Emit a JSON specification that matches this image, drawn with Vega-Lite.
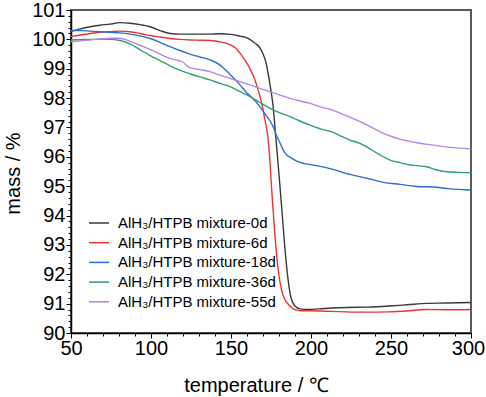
{
  "$schema": "https://vega.github.io/schema/vega-lite/v6.json",
  "width": 400,
  "height": 323,
  "autosize": "none",
  "padding": {"left": 71, "top": 10, "right": 15, "bottom": 64},
  "background": "white",
  "config": {
    "view": {"stroke": "#5a5a5a", "strokeWidth": 2},
    "axis": {
      "domainColor": "#000", "domainWidth": 1.5, "tickColor": "#000", "tickWidth": 1,
      "labelFont": "Liberation Sans", "labelColor": "#000", "labelFontSize": 20,
      "titleFont": "Liberation Sans", "titleColor": "#000", "titleFontSize": 20, "titleFontWeight": "normal",
      "grid": false, "labelOverlap": false, "labelBound": false, "labelFlush": false
    },
    "legend": {"labelFont": "Liberation Sans", "labelColor": "#000"}
  },
  "data": {"values": [
    {"s":"0d","T":50,"m":100.27},{"s":"0d","T":55,"m":100.35},{"s":"0d","T":62,"m":100.43},{"s":"0d","T":68,"m":100.48},{"s":"0d","T":74.4,"m":100.52},{"s":"0d","T":80.6,"m":100.57},{"s":"0d","T":86.9,"m":100.55},{"s":"0d","T":93,"m":100.5},{"s":"0d","T":99.4,"m":100.43},{"s":"0d","T":105.6,"m":100.3},{"s":"0d","T":111.9,"m":100.2},{"s":"0d","T":118,"m":100.18},{"s":"0d","T":124.4,"m":100.18},{"s":"0d","T":136.9,"m":100.18},{"s":"0d","T":143,"m":100.19},{"s":"0d","T":150,"m":100.17},{"s":"0d","T":155.6,"m":100.11},{"s":"0d","T":160,"m":100.05},{"s":"0d","T":163,"m":99.95},{"s":"0d","T":165.5,"m":99.85},{"s":"0d","T":168,"m":99.72},{"s":"0d","T":170,"m":99.5},{"s":"0d","T":171.9,"m":99.2},{"s":"0d","T":173,"m":98.9},{"s":"0d","T":174.4,"m":98.45},{"s":"0d","T":176.25,"m":97.76},{"s":"0d","T":178.1,"m":96.6},{"s":"0d","T":180,"m":95.4},{"s":"0d","T":181.9,"m":94.12},{"s":"0d","T":183.75,"m":92.85},{"s":"0d","T":185.6,"m":91.85},{"s":"0d","T":187.5,"m":91.2},{"s":"0d","T":190,"m":90.92},{"s":"0d","T":193.1,"m":90.82},{"s":"0d","T":198,"m":90.8},{"s":"0d","T":205,"m":90.82},{"s":"0d","T":213,"m":90.85},{"s":"0d","T":222.3,"m":90.87},{"s":"0d","T":235,"m":90.88},{"s":"0d","T":249.4,"m":90.92},{"s":"0d","T":260,"m":90.96},{"s":"0d","T":272.3,"m":91.01},{"s":"0d","T":285,"m":91.02},{"s":"0d","T":300,"m":91.04},
    {"s":"6d","T":50,"m":100.1},{"s":"6d","T":56,"m":100.15},{"s":"6d","T":62,"m":100.2},{"s":"6d","T":68,"m":100.24},{"s":"6d","T":74,"m":100.26},{"s":"6d","T":80.6,"m":100.28},{"s":"6d","T":87,"m":100.26},{"s":"6d","T":93,"m":100.2},{"s":"6d","T":99.4,"m":100.13},{"s":"6d","T":105.6,"m":100.08},{"s":"6d","T":112,"m":100.03},{"s":"6d","T":118,"m":100.0},{"s":"6d","T":124.4,"m":99.98},{"s":"6d","T":130.6,"m":99.97},{"s":"6d","T":137,"m":99.96},{"s":"6d","T":143,"m":99.92},{"s":"6d","T":147,"m":99.87},{"s":"6d","T":150,"m":99.8},{"s":"6d","T":153,"m":99.7},{"s":"6d","T":155.6,"m":99.53},{"s":"6d","T":158,"m":99.35},{"s":"6d","T":160,"m":99.18},{"s":"6d","T":162,"m":98.98},{"s":"6d","T":164,"m":98.75},{"s":"6d","T":166,"m":98.45},{"s":"6d","T":168,"m":98.08},{"s":"6d","T":169.5,"m":97.75},{"s":"6d","T":171.25,"m":97.25},{"s":"6d","T":173,"m":96.7},{"s":"6d","T":174,"m":96.1},{"s":"6d","T":175.4,"m":94.9},{"s":"6d","T":176.9,"m":93.74},{"s":"6d","T":178.6,"m":92.6},{"s":"6d","T":180,"m":91.95},{"s":"6d","T":181.7,"m":91.45},{"s":"6d","T":183.5,"m":91.15},{"s":"6d","T":185.8,"m":90.98},{"s":"6d","T":188,"m":90.86},{"s":"6d","T":191,"m":90.78},{"s":"6d","T":195,"m":90.76},{"s":"6d","T":199.4,"m":90.76},{"s":"6d","T":210,"m":90.74},{"s":"6d","T":222,"m":90.72},{"s":"6d","T":235,"m":90.71},{"s":"6d","T":249,"m":90.72},{"s":"6d","T":260,"m":90.75},{"s":"6d","T":272,"m":90.8},{"s":"6d","T":285,"m":90.79},{"s":"6d","T":300,"m":90.8},
    {"s":"18d","T":50,"m":100.3},{"s":"18d","T":56,"m":100.3},{"s":"18d","T":62,"m":100.28},{"s":"18d","T":68,"m":100.26},{"s":"18d","T":74.4,"m":100.24},{"s":"18d","T":80.6,"m":100.22},{"s":"18d","T":86.9,"m":100.18},{"s":"18d","T":93,"m":100.12},{"s":"18d","T":99.4,"m":100.03},{"s":"18d","T":105.6,"m":99.9},{"s":"18d","T":111.9,"m":99.75},{"s":"18d","T":118,"m":99.62},{"s":"18d","T":124.4,"m":99.5},{"s":"18d","T":130.6,"m":99.4},{"s":"18d","T":136.9,"m":99.3},{"s":"18d","T":143,"m":99.13},{"s":"18d","T":147.3,"m":98.92},{"s":"18d","T":151.3,"m":98.7},{"s":"18d","T":155.6,"m":98.45},{"s":"18d","T":159.8,"m":98.18},{"s":"18d","T":163,"m":98.02},{"s":"18d","T":166,"m":97.85},{"s":"18d","T":168.1,"m":97.7},{"s":"18d","T":170.2,"m":97.55},{"s":"18d","T":172.3,"m":97.38},{"s":"18d","T":174.4,"m":97.22},{"s":"18d","T":176.4,"m":97.02},{"s":"18d","T":178.6,"m":96.7},{"s":"18d","T":180.6,"m":96.48},{"s":"18d","T":182.7,"m":96.22},{"s":"18d","T":185,"m":96.05},{"s":"18d","T":188,"m":95.95},{"s":"18d","T":191.1,"m":95.85},{"s":"18d","T":196,"m":95.77},{"s":"18d","T":203.6,"m":95.7},{"s":"18d","T":212,"m":95.6},{"s":"18d","T":224.4,"m":95.4},{"s":"18d","T":235,"m":95.27},{"s":"18d","T":245.2,"m":95.13},{"s":"18d","T":255.6,"m":95.06},{"s":"18d","T":266,"m":94.99},{"s":"18d","T":276.4,"m":94.97},{"s":"18d","T":287,"m":94.91},{"s":"18d","T":300,"m":94.87},
    {"s":"36d","T":50,"m":99.98},{"s":"36d","T":56,"m":99.99},{"s":"36d","T":62,"m":100.0},{"s":"36d","T":68,"m":100.0},{"s":"36d","T":74.4,"m":100.0},{"s":"36d","T":80.6,"m":99.96},{"s":"36d","T":86.9,"m":99.85},{"s":"36d","T":93,"m":99.65},{"s":"36d","T":99.4,"m":99.45},{"s":"36d","T":105.6,"m":99.28},{"s":"36d","T":111.9,"m":99.1},{"s":"36d","T":118,"m":98.95},{"s":"36d","T":124.4,"m":98.83},{"s":"36d","T":130.6,"m":98.72},{"s":"36d","T":136.9,"m":98.62},{"s":"36d","T":143,"m":98.5},{"s":"36d","T":149.4,"m":98.39},{"s":"36d","T":155.6,"m":98.22},{"s":"36d","T":161.9,"m":98.05},{"s":"36d","T":168,"m":97.85},{"s":"36d","T":174.4,"m":97.65},{"s":"36d","T":180.6,"m":97.5},{"s":"36d","T":186.9,"m":97.37},{"s":"36d","T":193,"m":97.22},{"s":"36d","T":199.4,"m":97.08},{"s":"36d","T":206,"m":96.95},{"s":"36d","T":213.9,"m":96.83},{"s":"36d","T":219,"m":96.7},{"s":"36d","T":224.4,"m":96.57},{"s":"36d","T":230.6,"m":96.46},{"s":"36d","T":234.8,"m":96.34},{"s":"36d","T":242,"m":96.1},{"s":"36d","T":249.4,"m":95.89},{"s":"36d","T":255.6,"m":95.8},{"s":"36d","T":261.9,"m":95.72},{"s":"36d","T":266,"m":95.7},{"s":"36d","T":272.3,"m":95.66},{"s":"36d","T":278,"m":95.56},{"s":"36d","T":284.8,"m":95.49},{"s":"36d","T":292,"m":95.47},{"s":"36d","T":300,"m":95.46},
    {"s":"55d","T":50,"m":99.92},{"s":"55d","T":56,"m":99.95},{"s":"55d","T":62,"m":99.98},{"s":"55d","T":68,"m":100.01},{"s":"55d","T":74.4,"m":100.04},{"s":"55d","T":80.6,"m":100.04},{"s":"55d","T":86.9,"m":99.93},{"s":"55d","T":93,"m":99.8},{"s":"55d","T":99.4,"m":99.66},{"s":"55d","T":105.6,"m":99.5},{"s":"55d","T":111.9,"m":99.35},{"s":"55d","T":117,"m":99.28},{"s":"55d","T":120.2,"m":99.22},{"s":"55d","T":122,"m":99.12},{"s":"55d","T":124.4,"m":99.04},{"s":"55d","T":130.6,"m":98.97},{"s":"55d","T":136.9,"m":98.9},{"s":"55d","T":143,"m":98.78},{"s":"55d","T":149.4,"m":98.67},{"s":"55d","T":155.6,"m":98.56},{"s":"55d","T":161.9,"m":98.45},{"s":"55d","T":168,"m":98.33},{"s":"55d","T":174.4,"m":98.22},{"s":"55d","T":180.6,"m":98.1},{"s":"55d","T":186.9,"m":97.99},{"s":"55d","T":193,"m":97.9},{"s":"55d","T":199.4,"m":97.82},{"s":"55d","T":206,"m":97.7},{"s":"55d","T":213.9,"m":97.58},{"s":"55d","T":222,"m":97.4},{"s":"55d","T":230.6,"m":97.2},{"s":"55d","T":238,"m":97.0},{"s":"55d","T":245.2,"m":96.8},{"s":"55d","T":250,"m":96.7},{"s":"55d","T":255.6,"m":96.6},{"s":"55d","T":266,"m":96.48},{"s":"55d","T":276.4,"m":96.4},{"s":"55d","T":287,"m":96.32},{"s":"55d","T":300,"m":96.27}
  ]},
  "mark": {"type": "line", "strokeWidth": 1.4, "clip": true, "interpolate": "monotone"},
  "encoding": {
    "x": {"field": "T", "type": "quantitative",
      "scale": {"domain": [50, 300], "nice": false, "zero": false},
      "axis": {"orient": "bottom",
        "values": [50, 60, 70, 80, 90, 100, 110, 120, 130, 140, 150, 160, 170, 180, 190, 200, 210, 220, 230, 240, 250, 260, 270, 280, 290, 300],
        "labelExpr": "datum.value % 50 == 0 ? datum.label : ''",
        "tickSize": {"condition": {"test": "datum.value % 50 == 0", "value": 5}, "value": 3},
        "labelOffset": {"condition": {"test": "datum.value == 300", "value": -3}, "value": 0},
        "labelPadding": 0,
        "title": "temperature / ℃", "titleX": 185, "titleY": 52, "titleBaseline": "middle", "titleAlign": "center"}},
    "y": {"field": "m", "type": "quantitative",
      "scale": {"domain": [90, 101], "nice": false, "zero": false},
      "axis": {"orient": "left",
        "values": [90, 90.2, 90.4, 90.6, 90.8, 91, 91.2, 91.4, 91.6, 91.8, 92, 92.2, 92.4, 92.6, 92.8, 93, 93.2, 93.4, 93.6, 93.8, 94, 94.2, 94.4, 94.6, 94.8, 95, 95.2, 95.4, 95.6, 95.8, 96, 96.2, 96.4, 96.6, 96.8, 97, 97.2, 97.4, 97.6, 97.8, 98, 98.2, 98.4, 98.6, 98.8, 99, 99.2, 99.4, 99.6, 99.8, 100, 100.2, 100.4, 100.6, 100.8, 101],
        "labelExpr": "abs(datum.value - round(datum.value)) < 0.01 ? format(datum.value, 'd') : ''",
        "tickSize": {"condition": {"test": "abs(datum.value - round(datum.value)) < 0.01", "value": 5}, "value": 3},
        "labelPadding": 1,
        "title": "mass / %", "titleX": -58, "titleY": 163, "titleBaseline": "middle", "titleAlign": "center", "titleAngle": -90}},
    "color": {"field": "s", "type": "nominal",
      "scale": {"domain": ["0d", "6d", "18d", "36d", "55d"], "range": ["#3a3a3a", "#ee3333", "#2f6fd0", "#30a070", "#b486e6"]},
      "legend": {"orient": "none", "legendX": 17, "legendY": 202, "title": null, "symbolType": "stroke", "symbolSize": 400,
        "symbolStrokeWidth": 1.5, "labelFontSize": 15, "labelOffset": 8, "rowPadding": 0.7, "labelLimit": 0,
        "labelExpr": "'AlH₃/HTPB mixture-' + datum.label"}}
  }
}
